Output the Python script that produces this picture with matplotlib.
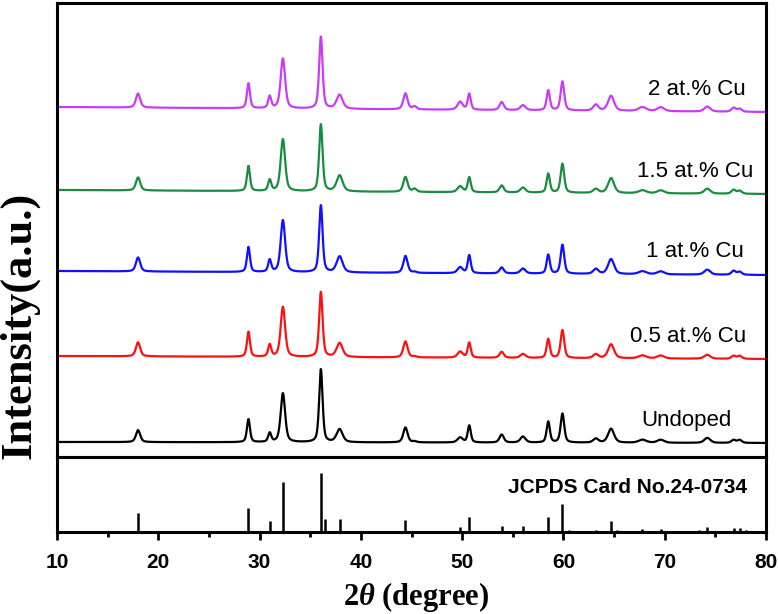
import numpy as np
import matplotlib
matplotlib.use("Agg")
import matplotlib.pyplot as plt

plt.rcParams["font.family"] = ["Liberation Sans", "DejaVu Sans"]
plt.rcParams["mathtext.fontset"] = "custom"
plt.rcParams["mathtext.rm"] = "Liberation Serif:bold"
plt.rcParams["mathtext.it"] = "Liberation Serif:bold:italic"

# Mn3O4 reflections (2theta, degree) used by all patterns
peak_pos = [18.0, 28.9, 31.0, 32.3, 36.05, 37.9, 44.4, 45.3, 49.8, 50.7,
            53.9, 56.0, 58.5, 59.9, 63.2, 64.7, 67.8, 69.6, 74.2, 76.8, 77.4]
peak_fwhm = [0.50, 0.36, 0.36, 0.52, 0.40, 0.70, 0.50, 0.45, 0.60, 0.36,
             0.50, 0.60, 0.38, 0.42, 0.60, 0.70, 0.90, 0.80, 0.70, 0.50, 0.50]

# peak heights (a.u.)
h_undoped = [12, 23, 9, 49, 73, 13, 15, 1, 5, 17, 8, 6, 21, 29, 4, 14, 3, 3, 5, 3, 3]
h_05 = [14, 25, 12, 50, 65, 14, 16, 1, 6, 15, 6, 4, 19, 28, 4, 14, 3, 3, 4, 3, 3]
h_1 = [14, 25, 12, 52, 67, 16, 17, 1, 6, 18, 6, 5, 19, 29, 5, 15, 3, 3, 5, 4, 3]
h_15 = [13, 25, 11, 52, 67, 16, 15, 3, 6, 15, 7, 5, 19, 29, 4, 15, 3, 3, 5, 4, 3]
h_2 = [14, 25, 12, 50, 72, 14, 16, 3, 8, 16, 8, 5, 20, 29, 6, 15, 4, 4, 5, 4, 3]

# baseline of each trace at 10 and 80 degree
bg_start = [15, 101, 186, 267, 350]
bg_end = [14, 98, 182, 263, 345]

labels = ["Undoped", "0.5 at.% Cu", "1 at.% Cu", "1.5 at.% Cu", "2 at.% Cu"]
colors = ["#000000", "#FF1010", "#1010FF", "#1A8C40", "#C83CF5"]
label_x = [72.1, 72.3, 73.0, 73.0, 73.2]
label_y = [37, 121, 206, 286, 368]

# JCPDS Card No.24-0734 sticks
ref_pos = [18.0, 28.9, 31.0, 32.3, 36.1, 36.45, 37.9, 44.4, 49.8, 50.7, 53.9,
           56.0, 58.5, 59.9, 60.5, 63.2, 64.7, 65.3, 67.8, 69.6, 73.4, 74.2,
           76.8, 77.4, 78.0]
ref_int = [32, 41, 19, 85, 100, 22, 22, 20, 8, 25, 10, 10, 25, 47, 3, 3, 19,
           3, 5, 5, 3, 8, 7, 7, 3]

x = np.linspace(10, 80, 3501)

fig = plt.figure(figsize=(7.78, 6.14), dpi=100)
ax = fig.add_axes([0.0733, 0.2557, 0.9113, 0.7394])
ax2 = fig.add_axes([0.0733, 0.1336, 0.9113, 0.1221], sharex=ax)

heights = [h_undoped, h_05, h_1, h_15, h_2]
for i in range(5):
    y = bg_start[i] + (bg_end[i] - bg_start[i]) * (x - 10) / 70
    for p, w, h in zip(peak_pos, peak_fwhm, heights[i]):
        u = (x - p) / (w / 2)
        # pseudo-Voigt line shape
        y = y + h * (0.5 / (1 + u ** 2) + 0.5 * np.exp(-np.log(2) * u ** 2))
    ax.plot(x, y, color=colors[i], lw=1.6)
    ax.text(label_x[i], label_y[i], labels[i], fontsize=16,
            ha="center", va="center")

ax.set_xlim(10, 80)
ax.set_ylim(0, 454)
ax.tick_params(axis="both", which="both", bottom=False, left=False,
               labelbottom=False, labelleft=False)

ax2.vlines(ref_pos, 0, ref_int, color="black", lw=1.8)
ax2.set_ylim(0, 127)
ax2.set_yticks([])
ax2.set_xticks(range(10, 81, 10))
ax2.set_xticks(range(15, 80, 10), minor=True)
ax2.tick_params(axis="x", which="major", direction="out", length=6, width=2,
                labelsize=15, pad=9)
ax2.tick_params(axis="x", which="minor", direction="out", length=3.5, width=2)
for lab in ax2.get_xticklabels():
    lab.set_fontweight("bold")
ax2.text(66.3, 0.587, "JCPDS Card No.24-0734", transform=ax2.get_xaxis_transform(),
         fontsize=15, fontweight="bold", ha="center", va="center")

for a in (ax, ax2):
    for s in a.spines.values():
        s.set_linewidth(2.2)

fig.text(0.5345, 0.028, r"2$\it{\theta}$ (degree)", fontsize=22, fontweight="bold",
         family="Liberation Serif", ha="center", va="center")
fig.text(0.025, 0.47, "Intensity(a.u.)", fontsize=32, fontweight="bold",
         family="Liberation Serif", rotation=90, ha="center", va="center")

fig.savefig("out.png", dpi=100)
